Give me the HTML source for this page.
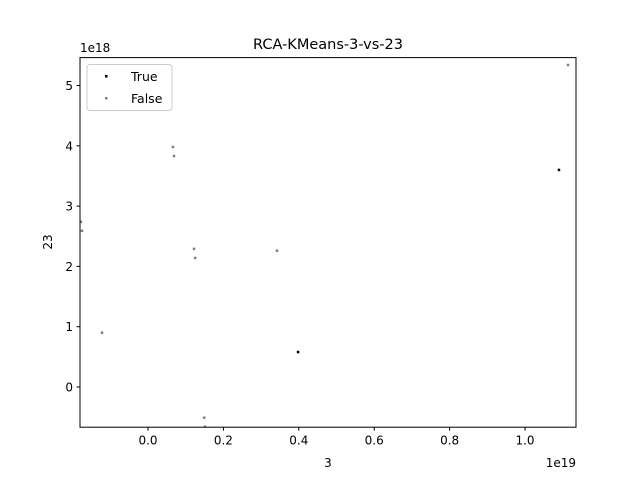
<!DOCTYPE html>
<html><head><meta charset="utf-8"><style>body{margin:0;background:#fff}svg{display:block;font-family:"DejaVu Sans","Liberation Sans",sans-serif}</style></head>
<body>
<svg id="chart" width="640" height="480">
<defs><clipPath id="clip"><rect x="80" y="57.6" width="496" height="369.6"/></clipPath></defs>
<rect x="0" y="0" width="640" height="480" fill="#fff"/>
<text x="328" y="49" font-size="14.5" text-anchor="middle">RCA-KMeans-3-vs-23</text>
<g id="marks" clip-path="url(#clip)"></g>
<g id="axes"></g>
</svg>
<script>
const trueX = [1.090, 0.398];
const trueY = [3.60, 0.58];
const falseX = [0.066, 0.069, -0.178, -0.175, 0.122, 0.125, 0.342, -0.122, 0.149, 0.151, 1.114];
const falseY = [3.98, 3.83, 2.74, 2.59, 2.29, 2.14, 2.26, 0.90, -0.51, -0.66, 5.34];
const xTicks = [0.0, 0.2, 0.4, 0.6, 0.8, 1.0];
const yTicks = [0, 1, 2, 3, 4, 5];

const L=80,R=576,T=57.6,B=427.2;
const xMin=-0.1804,xMax=1.1352,yMin=-0.667,yMax=5.463;
const sx=v=>L+(v-xMin)/(xMax-xMin)*(R-L);
const sy=v=>B-(v-yMin)/(yMax-yMin)*(B-T);
const NS='http://www.w3.org/2000/svg';
const marks=document.getElementById('marks'), axes=document.getElementById('axes');
function mk(tag,attrs,parent,text){const e=document.createElementNS(NS,tag);for(const k in attrs)e.setAttribute(k,attrs[k]);if(text!==undefined)e.textContent=text;parent.appendChild(e);return e;}
falseX.forEach((x,i)=>{
 const r=mk('rect',{x:sx(x)-1.25,y:sy(falseY[i])-1.25,width:2.5,height:2.5,fill:'#808080'},marks);
 
 
});
trueX.forEach((x,i)=>{
 const r=mk('rect',{x:sx(x)-1.25,y:sy(trueY[i])-1.25,width:2.5,height:2.5,fill:'#000'},marks);
 
 
});
const frame=mk('rect',{x:L,y:T,width:R-L,height:B-T,fill:'none',stroke:'#000','stroke-width':1},axes);


xTicks.forEach(t=>{
 const x=sx(t);
 mk('line',{x1:x,x2:x,y1:B,y2:B+3.5,stroke:'#000'},axes);
 const tx=mk('text',{x:x,y:B+17.5,'font-size':12,'text-anchor':'middle'},axes,t.toFixed(1));
 
 
});
yTicks.forEach(t=>{
 const y=sy(t);
 mk('line',{x1:L,x2:L-3.5,y1:y,y2:y,stroke:'#000'},axes);
 const tx=mk('text',{x:L-7,y:y+4.5,'font-size':12,'text-anchor':'end'},axes,String(t));
 
 
});
const xo=mk('text',{x:576,y:467,'font-size':12,'text-anchor':'end'},axes,'1e19');


const yo=mk('text',{x:80,y:52,'font-size':12},axes,'1e18');


const xl=mk('text',{x:328,y:467,'font-size':12,'text-anchor':'middle'},axes,'3');


const yl=mk('text',{x:52,y:242,'font-size':12,'text-anchor':'middle',transform:'rotate(-90 52 242)'},axes,'23');


const lg=mk('g',{},axes);


mk('rect',{x:87,y:64.5,width:85,height:46,rx:3,fill:'#fff',stroke:'#ccc'},lg);
const l1=mk('g',{},lg);


mk('rect',{x:105,y:75,width:2.5,height:2.5,fill:'#000'},l1);
mk('text',{x:131,y:81,'font-size':12.5},l1,'True');
const l2=mk('g',{},lg);


mk('rect',{x:105,y:97,width:2.5,height:2.5,fill:'#808080'},l2);
mk('text',{x:131,y:103,'font-size':12.5},l2,'False');
</script>
</body></html>
